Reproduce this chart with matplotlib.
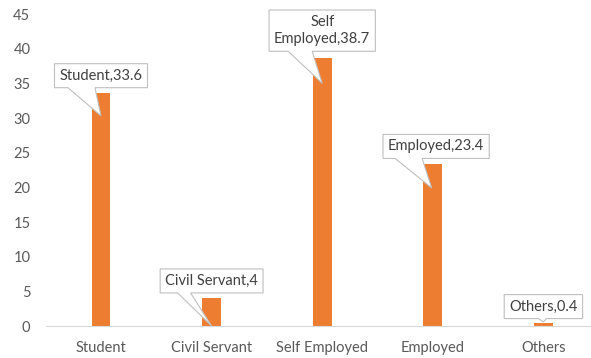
import matplotlib
matplotlib.use("Agg")
import matplotlib.pyplot as plt
from matplotlib.patches import Polygon

categories = ["Student", "Civil Servant", "Self Employed", "Employed", "Others"]
values = [33.6, 4, 38.7, 23.4, 0.4]
label_texts = ["Student,33.6", "Civil Servant,4", "Self\nEmployed,38.7", "Employed,23.4", "Others,0.4"]
yticks = [0, 5, 10, 15, 20, 25, 30, 35, 40, 45]

# callout placement (style/position settings)
box_centers = [(0.0, 36.1), (1.0, 6.5), (2.0, 42.6), (3.03, 25.9), (4.0, 2.8)]
tips = [(0.0, 30.3), (1.0, 0.0), (2.0, 35.0), (2.99, 19.9), (4.0, 0.6)]
wedge_base = [(-33, -6), (-34, -21), (-34, -10), (-41, -14), (-5, 3)]

plt.rcParams['font.family'] = ['Lato', 'DejaVu Sans']
W, H = 591, 358
fig = plt.figure(figsize=(W / 100, H / 100), dpi=100)
left_px, right_px = 45.7, 45.7 + 5 * 110.6
bot_px, top_px = 358 - 326, 358 - 14
ax = fig.add_axes([left_px / W, bot_px / H, (right_px - left_px) / W, (top_px - bot_px) / H])

orange = "#ED7D31"
x = list(range(len(categories)))
ax.bar(x, values, width=0.17, color=orange, zorder=2)
ax.set_xlim(-0.5, len(categories) - 0.5)
ax.set_ylim(0, 45)
ax.set_yticks(yticks)
ax.set_xticks(x)
ax.set_xticklabels(categories)
for s in ["top", "right", "left"]:
    ax.spines[s].set_visible(False)
ax.spines["bottom"].set_color("#D9D9D9")
ax.tick_params(axis="both", length=0, colors="#595959", labelsize=10.5)
ax.tick_params(axis="y", pad=11)
ax.tick_params(axis="x", pad=11)

texts = []
for (cx, cy), t in zip(box_centers, label_texts):
    tx = ax.text(cx, cy, t, ha="center", va="center", fontsize=10.5, color="#404040",
                 zorder=6, linespacing=1.3, clip_on=False)
    texts.append(tx)

fig.canvas.draw()
r = fig.canvas.get_renderer()
inv = ax.transData.inverted()
for tx, tip, wb in zip(texts, tips, wedge_base):
    bb = tx.get_window_extent(r)
    padx, pady = 5, 5
    x0, x1 = bb.x0 - padx, bb.x1 + padx
    y0, y1 = bb.y0 - pady, bb.y1 + pady
    cxp = (bb.x0 + bb.x1) / 2
    tpx, tpy = ax.transData.transform(tip)
    pts = [(x0, y1), (x1, y1), (x1, y0), (cxp + wb[1], y0), (tpx, tpy), (cxp + wb[0], y0), (x0, y0)]
    pts = [inv.transform(p) for p in pts]
    poly = Polygon(pts, closed=True, facecolor="white", edgecolor="#BFBFBF", lw=0.8,
                   zorder=5, clip_on=False)
    ax.add_patch(poly)

fig.savefig("out.png", dpi=100)
